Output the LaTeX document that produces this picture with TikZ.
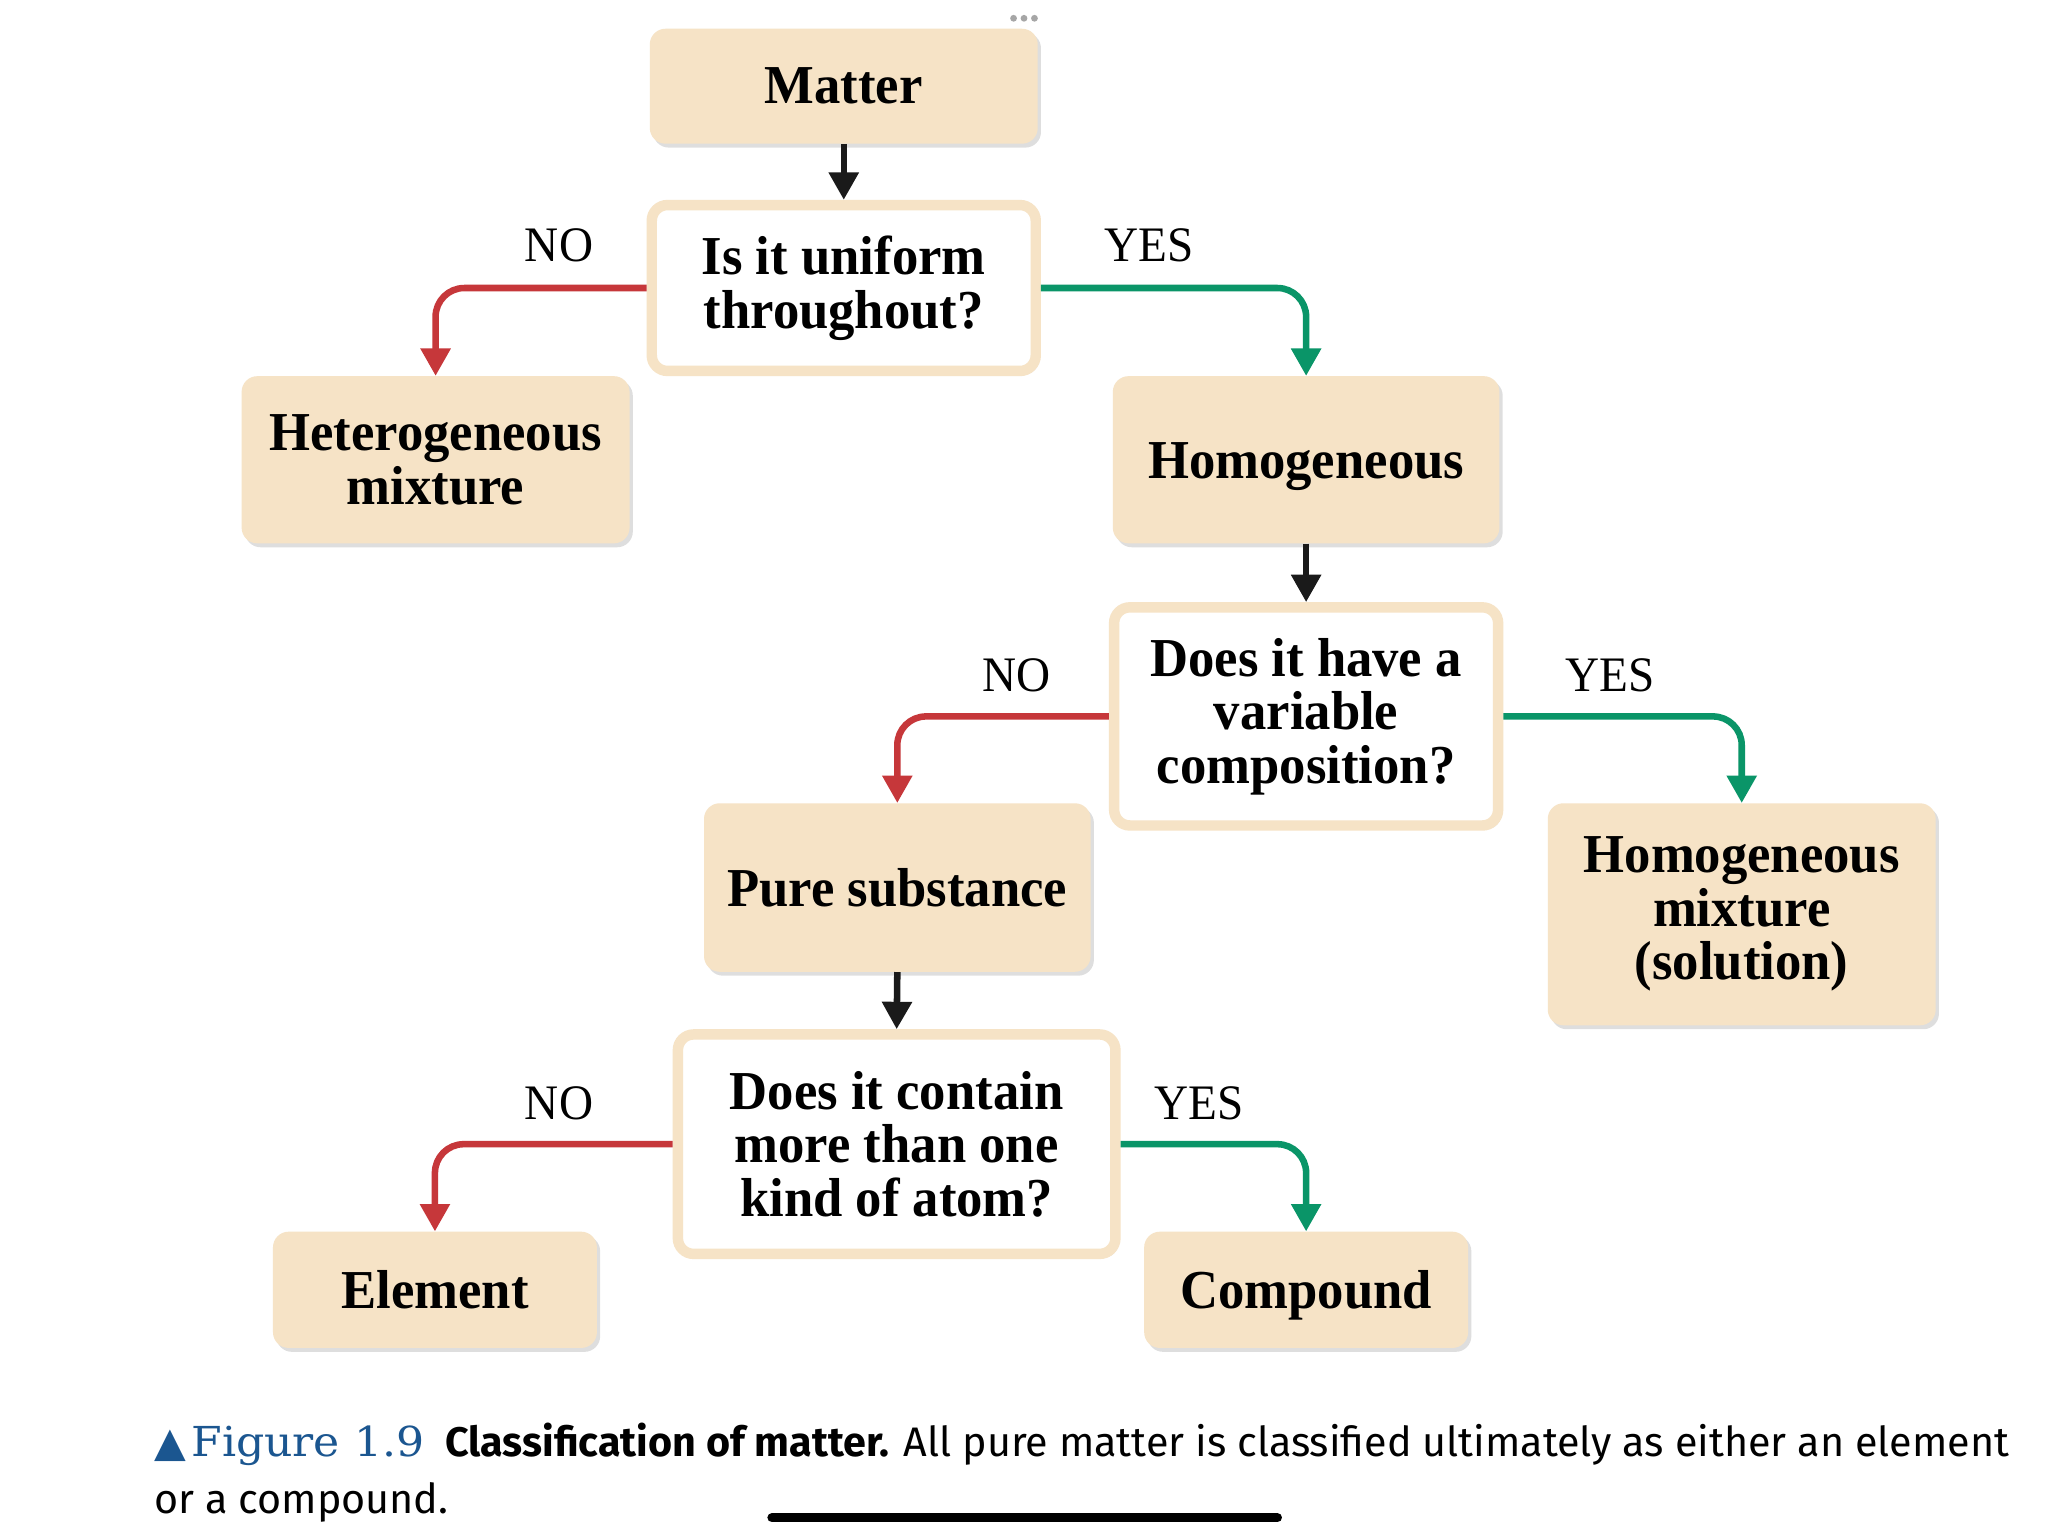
\documentclass[tikz,border=0pt]{standalone}
\usepackage{fontspec}
\setmainfont{Liberation Serif}
\newfontfamily\boxfont[FakeStretch=0.96]{Liberation Serif}
\newfontfamily\labfont[FakeStretch=0.95]{Liberation Serif}
\newfontfamily\capsans{Fira Sans}
\newfontfamily\capserif[FakeStretch=1.07]{DejaVu Serif}
\newfontfamily\symfont{DejaVu Sans}
\usetikzlibrary{arrows.meta,shadows}
\definecolor{tan}{HTML}{F6E3C6}
\definecolor{nored}{HTML}{C6373A}
\definecolor{yesgreen}{HTML}{0A9568}
\definecolor{arrblack}{HTML}{1A1A1A}
\definecolor{figblue}{HTML}{1B5690}
\tikzset{
  boxshadow/.style={drop shadow={shadow xshift=2.5pt, shadow yshift=-3pt, fill=black, opacity=0.13}},
  tanbox/.style={rectangle, rounded corners=12pt, fill=tan, draw=none, align=center,
    inner sep=0pt, font=\boxfont\bfseries\fontsize{42}{41}\selectfont, text=black, boxshadow},
  qbox/.style={rectangle, rounded corners=12pt, fill=white, draw=tan, line width=8pt, align=center,
    inner sep=0pt, font=\boxfont\bfseries\fontsize{42}{41}\selectfont, text=black, boxshadow},
  lowtext/.style={text height=28pt, text depth=0pt},
  conn/.style={line width=5pt, rounded corners=22pt},
  blackarrow/.style={conn, draw=arrblack, -{Triangle[width=22pt,length=21pt]}},
  redarrow/.style={conn, draw=nored, -{Triangle[width=22pt,length=21pt]}},
  greenarrow/.style={conn, draw=yesgreen, -{Triangle[width=22pt,length=21pt]}},
  lab/.style={font=\labfont\fontsize{38}{38}\selectfont, inner sep=0pt, text=black},
  captext/.style={anchor=base west, inner sep=0pt, font=\capsans\fontsize{31.6}{31.6}\selectfont, text=black}
}
\begin{document}
\begin{tikzpicture}[x=1pt,y=-1pt]
\useasboundingbox (0,0) rectangle (1568,1175);
\fill[white] (0,0) rectangle (1568,1175);

% nodes
\node[tanbox, minimum width=297pt, minimum height=88pt] (matter) at (646,66) {Matter};
\node[qbox, minimum width=294pt, minimum height=127pt] (q1) at (646,220.5) {Is it uniform\\throughout?};
\node[tanbox, minimum width=297pt, minimum height=128pt] (het) at (333.5,352) {Heterogeneous\\mixture};
\node[tanbox, lowtext, minimum width=296pt, minimum height=128pt] (hom) at (1000,352) {Homogeneous};
\node[qbox, minimum width=294pt, minimum height=167pt] (q2) at (1000,548.5) {Does it have a\\variable\\composition?};
\node[tanbox, minimum width=296pt, minimum height=129pt] (pure) at (687,679.5) {Pure substance};
\node[tanbox, minimum width=297pt, minimum height=170pt] (sol) at (1333.5,700) {Homogeneous\\mixture\\(solution)};
\node[qbox, minimum width=335pt, minimum height=168pt] (q3) at (686.5,876) {Does it contain\\more than one\\kind of atom?};
\node[tanbox, minimum width=248pt, minimum height=89pt] (elem) at (333,987.5) {Element};
\node[tanbox, lowtext, minimum width=248pt, minimum height=89pt] (comp) at (1000,987.5) {Compound};

% connectors
\draw[blackarrow] (matter.south) -- (q1.north);
\draw[redarrow] (q1.west) -| (het.north);
\draw[greenarrow] (q1.east) -| (hom.north);
\draw[blackarrow] (hom.south) -- (q2.north);
\draw[redarrow] (q2.west) -| (pure.north);
\draw[greenarrow] (q2.east) -| (sol.north);
\draw[blackarrow] (pure.south) -- (q3.north);
\draw[redarrow] (q3.west) -| (elem.north);
\draw[greenarrow] (q3.east) -| (comp.north);

% labels
\node[lab] (no1) at (428,188) {NO};
\node[lab] (yes1) at (880,188) {YES};
\node[lab] (no2) at (778,517) {NO};
\node[lab] (yes2) at (1233,517) {YES};
\node[lab] (no3) at (428,845) {NO};
\node[lab] (yes3) at (918,845) {YES};

% caption
\node[captext] (cap1) at (118,1115) {{\symfont\color{figblue}▲}\hspace{4pt}{\capserif\color{figblue}Figure 1.9}\hspace{16pt}\textbf{Classification of matter.} All pure matter is classified ultimately as either an element};
\node[captext] (cap2) at (118,1159) {or a compound.};

% screen decorations
\fill[gray!70] (776,14) circle (2.6pt) (784,14) circle (2.6pt) (792,14) circle (2.6pt);
\draw[black, line width=7pt, line cap=round] (591,1162) -- (978,1162);
\end{tikzpicture}
\end{document}
